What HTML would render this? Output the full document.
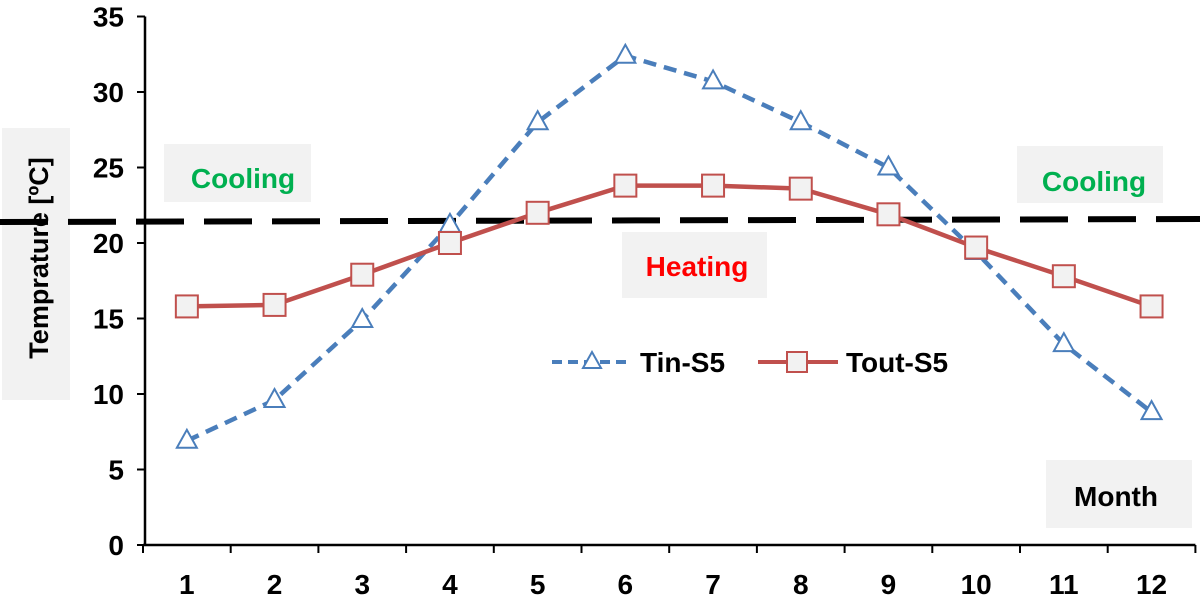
<!DOCTYPE html>
<html><head><meta charset="utf-8"><style>
html,body{margin:0;padding:0;background:#fff;}
svg{display:block;font-family:"Liberation Sans",Arial,sans-serif;font-weight:bold;}
</style></head><body>
<svg id="chart" width="1200" height="603" viewBox="0 0 1200 603">
<rect x="0" y="0" width="1200" height="603" fill="#fff"/>
<rect x="2" y="128" width="68" height="272" fill="#f2f2f2"/>
<text transform="translate(48,258) rotate(-90)" text-anchor="middle" font-size="27" fill="#000">Temprature [ºC]</text>
<rect x="164" y="144" width="147" height="58" fill="#f2f2f2"/>
<text x="243" y="188" text-anchor="middle" font-size="28" fill="#00b050">Cooling</text>
<rect x="1017" y="146" width="146" height="57" fill="#f2f2f2"/>
<text x="1094" y="191" text-anchor="middle" font-size="28" fill="#00b050">Cooling</text>
<rect x="622" y="232" width="145" height="66" fill="#f2f2f2"/>
<text x="697" y="276" text-anchor="middle" font-size="28" fill="#ff0000">Heating</text>
<rect x="1046" y="460" width="146" height="68" fill="#f2f2f2"/>
<text x="1116" y="506" text-anchor="middle" font-size="28" fill="#000">Month</text>
<g id="axes"></g>
<line x1="0" y1="222" x2="1200" y2="219" stroke="#000" stroke-width="6" stroke-dasharray="48,20"/>
<g id="series"></g>
<g>
<line x1="552" y1="362" x2="632" y2="362" stroke="#4a7ebb" stroke-width="4" stroke-dasharray="10,6"/>
<polygon points="592,352 583,368 601,368" fill="#fff" stroke="#4a7ebb" stroke-width="2"/>
<text x="640" y="372" font-size="28" fill="#000">Tin-S5</text>
<line x1="758" y1="362" x2="838" y2="362" stroke="#c0504d" stroke-width="4"/>
<rect x="787" y="352" width="20" height="20" fill="#f2f2f2" stroke="#c0504d" stroke-width="2"/>
<text x="846" y="372" font-size="28" fill="#000">Tout-S5</text>
</g>
</svg>
<script>
const months = [1,2,3,4,5,6,7,8,9,10,11,12];
const tinValues = [6.9,9.6,14.9,21.2,28.0,32.4,30.7,28.0,25.0,19.4,13.3,8.8];
const toutValues = [15.8,15.9,17.9,20.0,22.0,23.8,23.8,23.6,21.9,19.7,17.8,15.8];
const yTicks = [0,5,10,15,20,25,30,35];
const NS="http://www.w3.org/2000/svg";
const x0=143, step=87.7, yBase=545, pxPerUnit=15.1;
function xs(i){return x0+step*(i+0.5);}
function ys(v){return yBase-v*pxPerUnit;}
function mk(tag,attrs,parent){const e=document.createElementNS(NS,tag);for(const k in attrs)e.setAttribute(k,attrs[k]);parent.appendChild(e);return e;}
const axes=document.getElementById('axes');
const ya=mk('line',{x1:145,y1:ys(35),x2:145,y2:yBase,stroke:'#000','stroke-width':2.5},axes);


const xa=mk('line',{x1:143,y1:yBase,x2:x0+step*12,y2:yBase,stroke:'#000','stroke-width':2.5},axes);


yTicks.forEach(t=>{
  mk('line',{x1:137,y1:ys(t),x2:145,y2:ys(t),stroke:'#000','stroke-width':2},axes);
  const tx=mk('text',{x:124,y:ys(t)+10,'text-anchor':'end','font-size':28,fill:'#000'},axes);
  tx.textContent=t;
  
  
});
for(let i=0;i<=12;i++){mk('line',{x1:x0+step*i,y1:yBase,x2:x0+step*i,y2:yBase+8,stroke:'#000','stroke-width':2},axes);}
months.forEach((m,i)=>{
  const tx=mk('text',{x:xs(i),y:594,'text-anchor':'middle','font-size':28,fill:'#000'},axes);
  tx.textContent=m;
  
  
});
const ser=document.getElementById('series');
const tinLine=mk('polyline',{points:tinValues.map((v,i)=>xs(i)+','+ys(v)).join(' '),fill:'none',stroke:'#4a7ebb','stroke-width':4.5,'stroke-dasharray':'13,8'},ser);


const toutLine=mk('polyline',{points:toutValues.map((v,i)=>xs(i)+','+ys(v)).join(' '),fill:'none',stroke:'#c0504d','stroke-width':4.5},ser);


tinValues.forEach((v,i)=>{
  const x=xs(i),y=ys(v);
  const p=mk('polygon',{points:`${x},${y-11} ${x-10},${y+7} ${x+10},${y+7}`,fill:'#fff',stroke:'#4a7ebb','stroke-width':2},ser);
  
  
});
toutValues.forEach((v,i)=>{
  const x=xs(i),y=ys(v);
  const r=mk('rect',{x:x-11,y:y-11,width:22,height:22,fill:'#f2f2f2',stroke:'#c0504d','stroke-width':2},ser);
  
  
});
</script>
</body></html>
